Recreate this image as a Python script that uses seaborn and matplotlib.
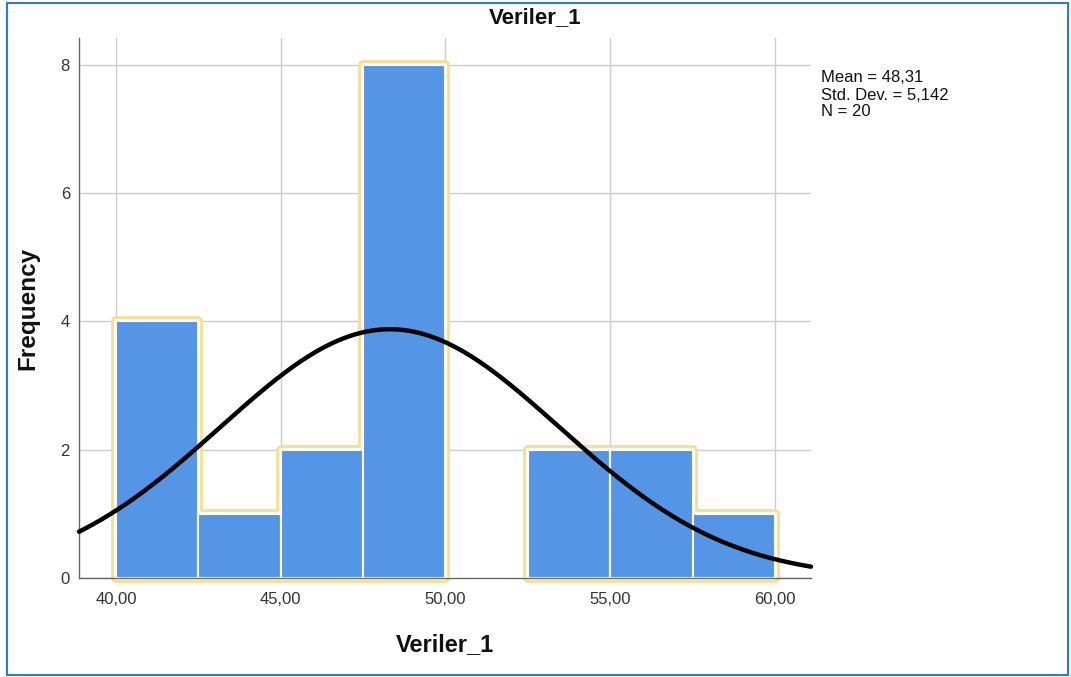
import numpy as np
import matplotlib
matplotlib.use("Agg")
import matplotlib.pyplot as plt
from matplotlib.patches import Rectangle
from matplotlib.ticker import FuncFormatter
import seaborn as sns

# histogram data (SPSS output, Veriler_1)
bin_edges = [40.0, 42.5, 45.0, 47.5, 50.0, 52.5, 55.0, 57.5, 60.0]
counts = [4, 1, 2, 8, 0, 2, 2, 1]
mean_val = 48.31
std_val = 5.142
n_val = 20
x_ticks = [40, 45, 50, 55, 60]
y_ticks = [0, 2, 4, 6, 8]

bar_color = "#5495E5"
outline_color = "#F7DE8E"
text_color = "#333333"


def comma(s):
    return s.replace(".", ",")


sns.set_style("white")
plt.rcParams["font.family"] = ["Liberation Sans", "DejaVu Sans"]

fig = plt.figure(figsize=(10.71, 6.77), dpi=100)
ax = fig.add_axes([79 / 1071, 99 / 677, 732 / 1071, 540 / 677])

mids = [(a + b) / 2 for a, b in zip(bin_edges[:-1], bin_edges[1:])]
sns.histplot(x=mids, weights=counts, bins=bin_edges, color=bar_color, alpha=1,
             edgecolor="white", linewidth=1.5, ax=ax, zorder=2)

# yellow outline around each run of non-empty bins
runs = []
cur = []
for i, c in enumerate(counts):
    if c > 0:
        cur.append(i)
    elif cur:
        runs.append(cur)
        cur = []
if cur:
    runs.append(cur)
for run in runs:
    xs = [bin_edges[run[0]]]
    ys = [0]
    for i in run:
        xs += [bin_edges[i], bin_edges[i + 1]]
        ys += [counts[i], counts[i]]
    xs.append(bin_edges[run[-1] + 1])
    ys.append(0)
    ax.fill(xs, ys, facecolor="none", edgecolor=outline_color, lw=7,
            joinstyle="round", zorder=1.4, clip_on=False)
    ax.fill(xs, ys, facecolor="white", edgecolor="white", lw=3,
            joinstyle="round", zorder=1.5, clip_on=False)

# normal curve
xlim = (38.88, 61.09)
xx = np.linspace(xlim[0], xlim[1], 400)
width = bin_edges[1] - bin_edges[0]
yy = n_val * width / (std_val * np.sqrt(2 * np.pi)) * np.exp(-0.5 * ((xx - mean_val) / std_val) ** 2)
ax.plot(xx, yy, color="black", lw=3.2, zorder=4, clip_on=False)

ax.set_xlim(*xlim)
ax.set_ylim(0, 8.42)
ax.set_xticks(x_ticks)
ax.set_yticks(y_ticks)
ax.xaxis.set_major_formatter(FuncFormatter(lambda v, p: comma(f"{v:.2f}")))
ax.grid(True, color="#cccccc", lw=1)
ax.set_axisbelow(True)
for s in ["top", "right"]:
    ax.spines[s].set_visible(False)
for s in ["left", "bottom"]:
    ax.spines[s].set_color("#666666")
    ax.spines[s].set_linewidth(1)
ax.spines["bottom"].set_zorder(3)
ax.tick_params(axis="x", length=0, pad=10, labelsize=12, labelcolor=text_color)
ax.tick_params(axis="y", length=0, pad=6.5, labelsize=12, labelcolor=text_color)

ax.set_xlabel("Veriler_1", fontsize=17, fontweight="bold", color="#111111")
ax.xaxis.set_label_coords(0.5, -0.124)
ax.xaxis.label.set_va("center")
ax.set_ylabel("Frequency", fontsize=17.5, fontweight="bold", color="#111111")
ax.yaxis.set_label_coords(-0.0697, 0.5)
ax.yaxis.label.set_va("center")

fig.text(535 / 1071, 1 - 18 / 677, "Veriler_1", fontsize=16, fontweight="bold",
         ha="center", va="center", color="#111111")

stats_lines = [comma(f"Mean = {mean_val:.2f}"),
               "Std. Dev. = " + comma(f"{std_val:.3f}"),
               f"N = {n_val}"]
for k, line in enumerate(stats_lines):
    fig.text(821 / 1071, 1 - (78 + 17 * k) / 677, line, fontsize=12,
             ha="left", va="center", color="#111111")

fig.patches.append(Rectangle((7 / 1071, 2 / 677), 1061 / 1071, 672 / 677,
                             transform=fig.transFigure, fill=False,
                             edgecolor="#2B7CD3", lw=1.5))

fig.savefig("out.png", dpi=100)
